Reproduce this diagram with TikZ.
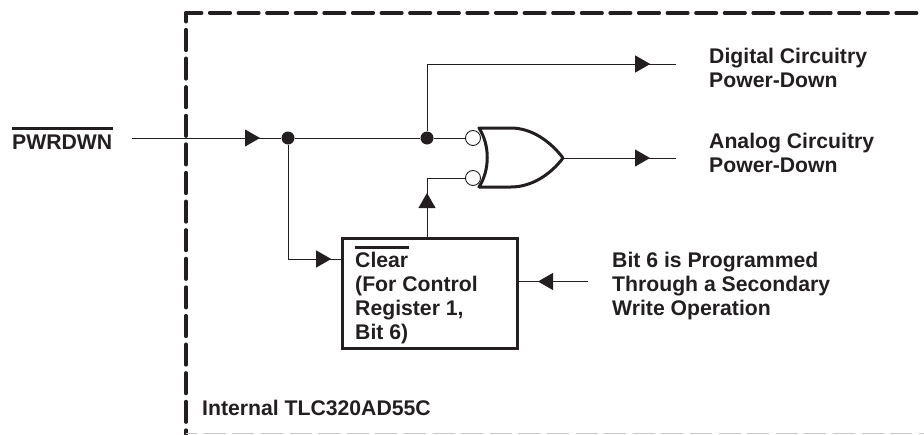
\documentclass[tikz,border=0pt]{standalone}
\usepackage{fontspec}
\setmainfont{Liberation Sans}
\usetikzlibrary{decorations.markings,arrows.meta}
\definecolor{ink}{HTML}{231F20}
\tikzset{
  x=1pt,y=-1pt,
  wire/.style={draw=ink,line width=0.9pt},
  tipat/.style={postaction={decorate},decoration={markings,mark=at position #1 with {\arrow{Triangle[length=15pt,width=17pt,fill=ink]}}}},
  junction/.style={circle,fill=ink,inner sep=0pt,minimum size=13pt},
  bubble/.style={circle,draw=ink,fill=white,line width=0.9pt,inner sep=0pt,minimum size=15pt},
  lbl/.style={anchor=base west,inner sep=0pt,text=ink,font=\fontsize{21.2pt}{25pt}\selectfont\bfseries},
  frame/.style={draw=ink,line width=3.6pt,line cap=round},
  gateline/.style={draw=ink,line width=3pt,line join=round,line cap=round}
}
\begin{document}
\begin{tikzpicture}
\useasboundingbox (0,0) rectangle (924,434);
% frame
\coordinate (ftr) at (924,13);
\coordinate (ftl) at (186,13);
\coordinate (fbl) at (186,434);
\coordinate (fbr) at (924,433.6);
\draw[frame,dash pattern=on 20.5pt off 8.1pt,dash phase=4.85pt] (ftl) -- (ftr);
\draw[frame,dash pattern=on 20.5pt off 8.1pt,dash phase=11.85pt] (ftl) -- (fbl);
\draw[draw=ink!25,line width=1pt,dash pattern=on 22pt off 6.6pt,dash phase=10.9pt] (fbl |- fbr) -- (fbr);
% box
\node[draw=ink,line width=3pt,minimum width=174.5pt,minimum height=110pt,inner sep=0pt,outer sep=0pt,anchor=north west] (box) at (342.5,238) {};
% gate
\coordinate (gtl) at (479,128);
\coordinate (gbl) at (479,187);
\coordinate (gtip) at (563,158);
\draw[gateline] (gtl) .. controls (490,145) and (490,170) .. (gbl)
  -- (511,187) .. controls (532,187) and (551,174) .. (gtip)
  .. controls (551,142) and (532,128) .. (511,128) -- cycle;
\node[bubble] (b1) at (473,138) {};
\node[bubble] (b2) at (473,178) {};
\node[junction] (j1) at (288,138) {};
\node[junction] (j2) at (427,138) {};
% labels
\node[lbl] (pwr) at (12,149) {PWRDWN};
\draw[draw=ink,line width=3pt] (12,128.7) -- (113,128.7);
\coordinate (instart) at (132,138);
\coordinate (dout) at (676,64);
\coordinate (aout) at (676,158);
\coordinate (bitin) at (588,281.5);
\coordinate (jl) at (288,259);
\coordinate (jt) at (427,64);
\coordinate (uj) at (427,178);
% connectors
\draw[wire,tipat=128pt] (instart) -- (j1);
\draw[wire] (j1) -- (j2);
\draw[wire] (j2) -- (b1);
\draw[wire,tipat=157.5pt] (j1) -- (jl) -- (box.west |- jl);
\draw[wire,tipat=290.5pt] (j2) -- (jt) -- (dout);
\draw[wire,tipat=87pt] (gtip) -- (aout);
\draw[wire,tipat=45pt] (box.north -| uj) -- (uj) -- (b2);
\draw[wire,tipat=50pt] (bitin) -- (bitin -| box.east);
% texts
\node[lbl] (d1) at (709,63.5) {Digital Circuitry};
\node[lbl] (d2) at (709,87.5) {Power-Down};
\node[lbl] (a1) at (709,148) {Analog Circuitry};
\node[lbl] (a2) at (709,172) {Power-Down};
\node[lbl] (b61) at (612,267) {Bit 6 is Programmed};
\node[lbl] (b62) at (612,291) {Through a Secondary};
\node[lbl] (b63) at (612,315) {Write Operation};
\node[lbl] (c1) at (355,267) {Clear};
\draw[draw=ink,line width=3pt] (355,247.3) -- (409,247.3);
\node[lbl] (c2) at (355,291) {(For Control};
\node[lbl] (c3) at (355,315) {Register 1,};
\node[lbl] (c4) at (355,339) {Bit 6)};
\node[lbl] (int) at (202,415) {Internal TLC320AD55C};
\end{tikzpicture}
\end{document}
